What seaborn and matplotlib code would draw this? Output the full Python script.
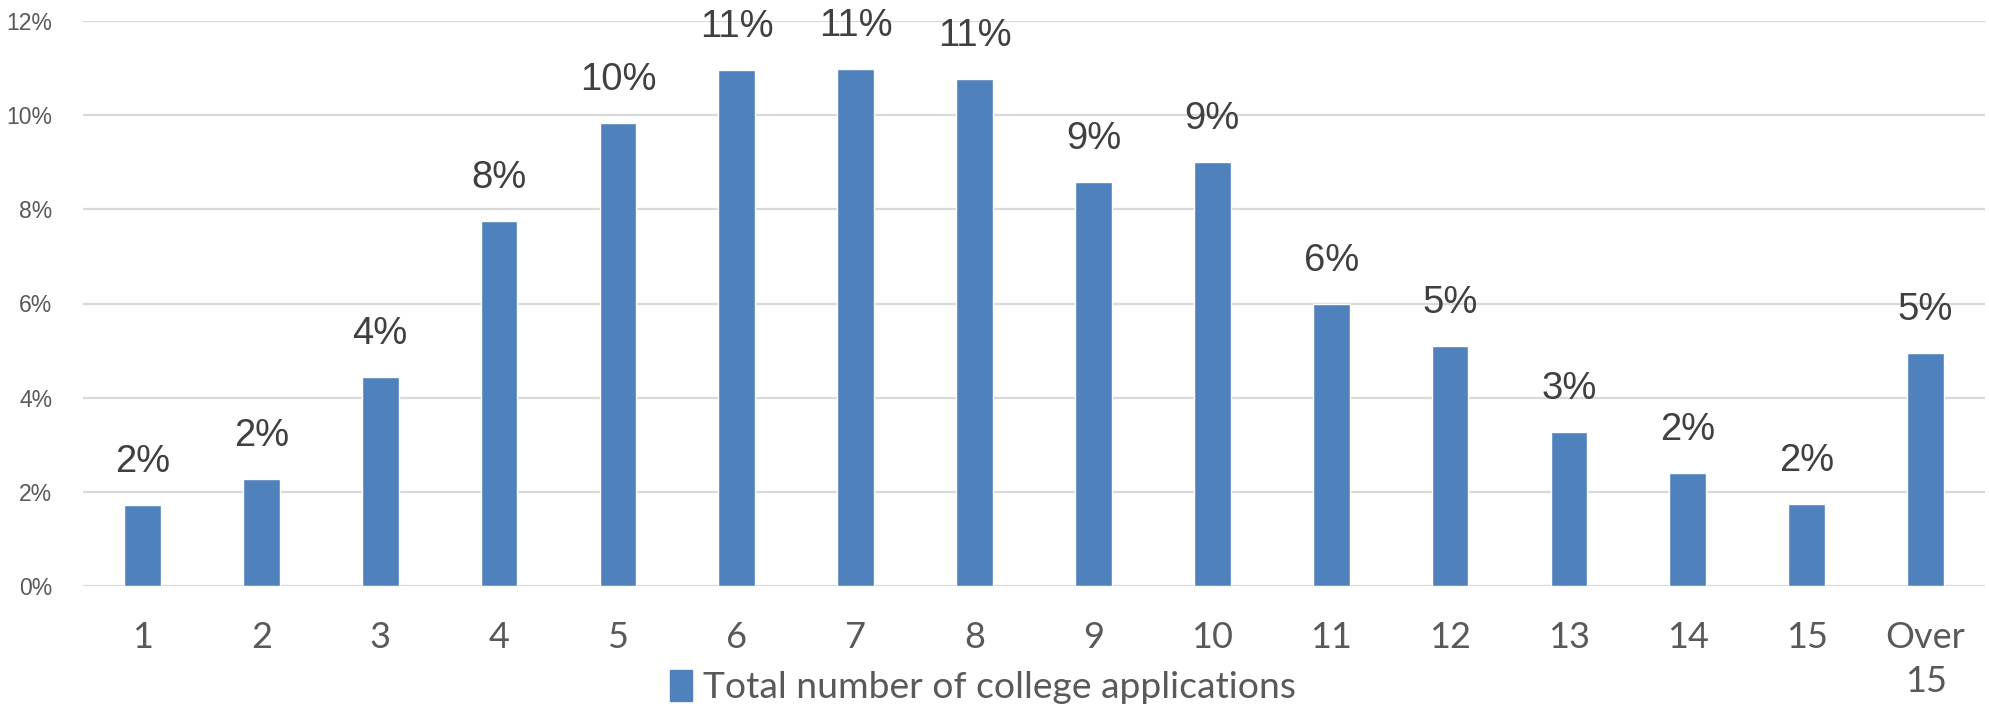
import matplotlib
matplotlib.use("Agg")
import matplotlib.pyplot as plt
import matplotlib.patches as mpatches
import seaborn as sns
import pandas as pd

# ---- data ----
categories = ["1", "2", "3", "4", "5", "6", "7", "8", "9", "10",
              "11", "12", "13", "14", "15", "Over\n15"]
share_pct = [1.73, 2.28, 4.43, 7.76, 9.84, 10.95, 10.98, 10.76,
             8.59, 9.01, 5.99, 5.10, 3.28, 2.41, 1.75, 4.94]
series_name = "Total number of college applications"
y_ticks = [0, 2, 4, 6, 8, 10, 12]

df = pd.DataFrame({"cat": categories, "pct": share_pct})

sns.set_theme(style="white")
plt.rcParams["font.family"] = ["Liberation Sans", "DejaVu Sans"]

BLUE = "#4F81BD"
GRID = "#D9D9D9"

fig = plt.figure(figsize=(19.9, 7.08), dpi=100)
W, H = 1990, 708
ax = fig.add_axes([83 / W, 1 - 586 / H, (1985 - 83) / W, (586 - 21) / H])

sns.barplot(data=df, x="cat", y="pct", color=BLUE, saturation=1,
            width=0.31, ax=ax, order=categories)

ax.set_ylim(0, 12)
ax.set_xlim(-0.5, len(categories) - 0.5)
ax.set_yticks(y_ticks)
ax.set_yticklabels([f"{t}%" for t in y_ticks], fontsize=16.5,
                   color="#595959", family=["Liberation Sans"])
ax.yaxis.grid(True, color=GRID, linewidth=1.6)
ax.set_axisbelow(True)
for s in ax.spines.values():
    s.set_visible(False)
ax.tick_params(axis="both", length=0)
ax.tick_params(axis="y", pad=22)
ax.tick_params(axis="x", pad=25)
ax.set_xlabel("")
ax.set_ylabel("")

for lab in ax.get_xticklabels():
    lab.set_fontsize(26)
    lab.set_color("#595959")
    lab.set_family(["Lato", "DejaVu Sans"])
    lab.set_linespacing(1.43)

cont = ax.containers[0]
ax.bar_label(cont, labels=[f"{v:.0f}%" for v in share_pct], padding=18,
             fontsize=27.5, color="#404040", family=["Liberation Sans"])

handle = mpatches.Patch(color=BLUE, label=series_name)
fig.legend(handles=[handle], loc="center", bbox_to_anchor=(0.494, 1 - 687 / H),
           frameon=False, handlelength=0.6, handleheight=0.9, handletextpad=0.3,
           prop={"family": "Lato", "size": 26.8}, labelcolor="#595959")

fig.savefig("out.png", dpi=100)
